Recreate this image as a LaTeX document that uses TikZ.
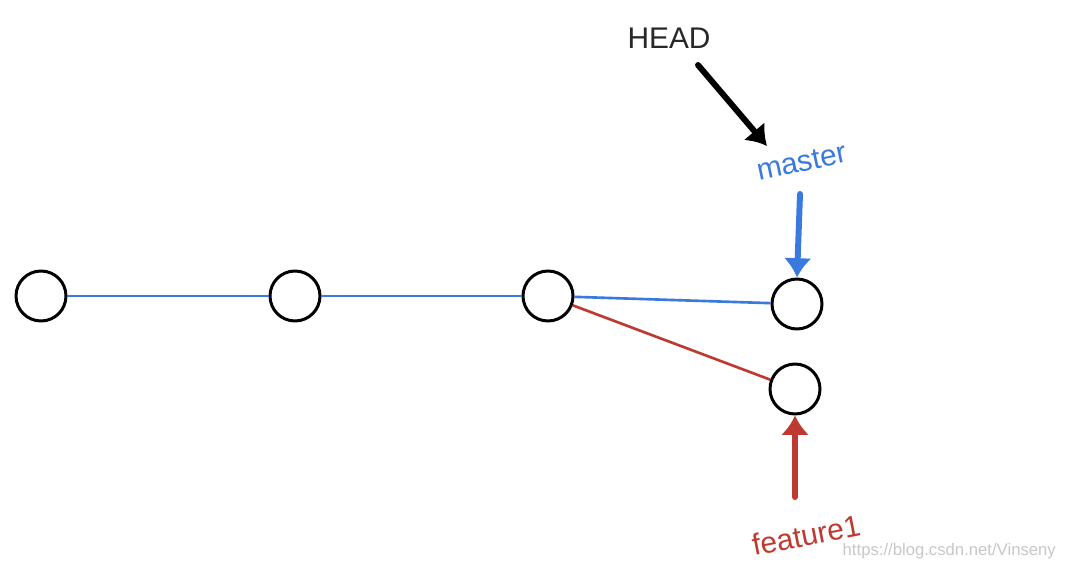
\documentclass[tikz,border=0pt]{standalone}
\usepackage{fontspec}
\setmainfont{Liberation Sans}
\usetikzlibrary{
    positioning,
    arrows.meta,
    calc
}
\definecolor{gitblue}{RGB}{58,122,222}
\definecolor{gitred}{RGB}{190,58,48}
\definecolor{headgray}{RGB}{40,40,40}

\begin{document}
\begin{tikzpicture}[
    x=0.02cm, y=-0.02cm,
    commit/.style={
        circle, draw=black, line width=1.7pt, fill=white,
        minimum size=1.0cm, inner sep=0pt
    },
    reflabel/.style={
        font=\fontsize{17}{20}\selectfont, inner sep=1pt
    },
    bline/.style={draw=gitblue, line width=1.5pt},
    rline/.style={draw=gitred, line width=1.5pt},
    ptr/.style={-{Latex[length=11pt,width=16pt]}, line width=3.4pt, line cap=round}
]
\useasboundingbox (0,0) rectangle (1070,570);

% Commits
\node[commit] (c1) at (41,296) {};
\node[commit] (c2) at (295,296) {};
\node[commit] (c3) at (548,296) {};
\node[commit] (c4) at (797,304) {};
\node[commit] (c5) at (795,389) {};

% Branch lines
\draw[bline] (c1) -- (c2);
\draw[bline] (c2) -- (c3);
\draw[bline] (c3) -- (c4);
\draw[rline] (c3) -- (c5);

% Labels
\node[reflabel, text=headgray] (head) at (669,38) {HEAD};
\node[reflabel, text=gitblue, rotate=12] (master) at (802,162) {master};
\node[reflabel, text=gitred, rotate=11] (feature) at (806,535) {feature1};
\node[font=\fontsize{9.5}{11}\selectfont, text=black!22, anchor=east] (mark)
    at (1062,551) {https://blog.csdn.net/Vinseny};

% Pointers
\draw[ptr, draw=black] ($(head.center)+(29,27)$) -- ($(master.center)+(-35,-16)$);
\draw[ptr, draw=gitblue] ($(master.center)+(-2,32)$) -- (c4.north);
\draw[ptr, draw=gitred] ($(feature.center)+(-11,-38)$) -- (c5.south);

\end{tikzpicture}
\end{document}
